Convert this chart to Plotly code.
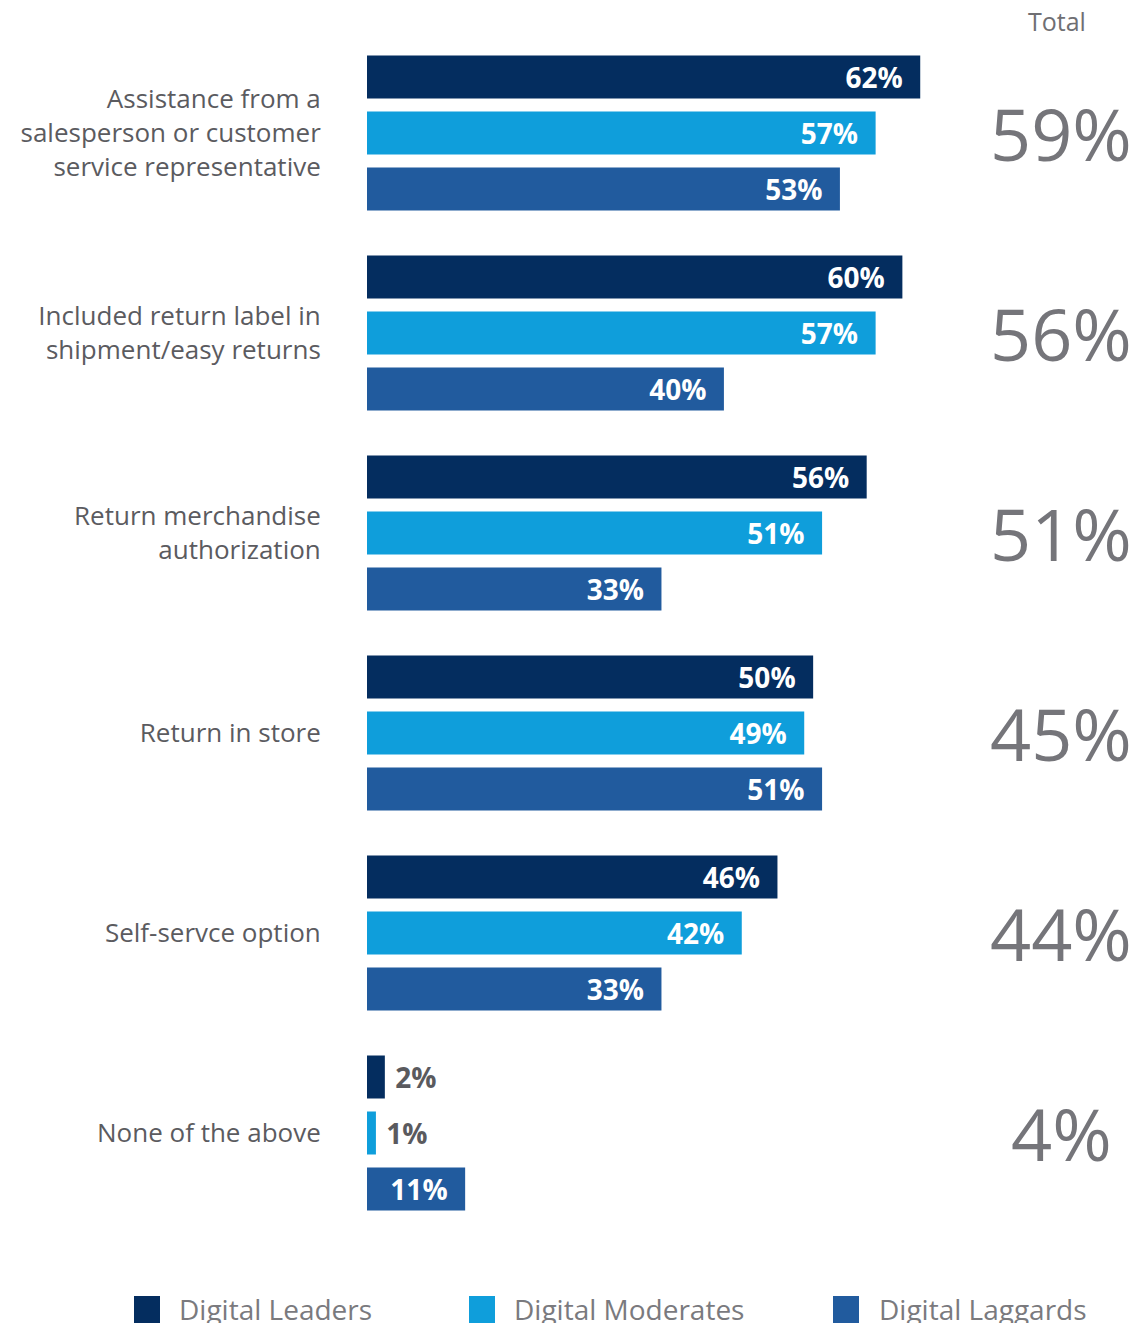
import plotly.graph_objects as go

categories = [
    "Assistance from a<br>salesperson or customer<br>service representative",
    "Included return label in<br>shipment/easy returns",
    "Return merchandise<br>authorization",
    "Return in store",
    "Self-servce option",
    "None of the above",
]
series_names = ["Digital Leaders", "Digital Moderates", "Digital Laggards"]
leaders = [62, 60, 56, 50, 46, 2]
moderates = [57, 57, 51, 49, 42, 1]
laggards = [53, 40, 33, 51, 33, 11]
totals = [59, 56, 51, 45, 44, 4]
colors = ["#042d5f", "#0f9edb", "#215b9e"]

# page has an 8px body margin; figure coords = page coords - 8
OFF = 8
W, H = 1140 - OFF, 1323 - OFF
ML, MR, MT = 367 - OFF, 0, 33 - OFF
PH = 1200
MB = H - MT - PH
PW = W - ML - MR


def fx(px):
    return (px - OFF - ML) / PW


def fy(py):
    return (MT + PH - (py - OFF)) / PH


font_main = "Open Sans"
fig = go.Figure()

for name, vals, col in zip(series_names, [leaders, moderates, laggards], colors):
    pos = ["outside" if v < 5 else "inside" for v in vals]
    txt = [("\u00a0%d%%" % v) if v < 5 else ("%d%%\u00a0\u00a0" % v) for v in vals]
    fig.add_trace(go.Bar(
        name=name, y=categories, x=vals, orientation="h",
        marker=dict(color=col, line=dict(width=0)),
        text=txt, textposition=pos, insidetextanchor="end",
        insidetextfont=dict(color="white", size=28, family=font_main, weight="bold"),
        outsidetextfont=dict(color="#5a5a5e", size=28, family=font_main, weight="bold"),
        constraintext="none", cliponaxis=False,
        xaxis="x", yaxis="y", showlegend=False,
        hoverinfo="skip",
    ))

# invisible anchor trace for the Total column axis
fig.add_trace(go.Scatter(
    x=[0.5] * len(totals), y=categories, mode="markers",
    marker=dict(size=1, opacity=0), xaxis="x2", yaxis="y",
    showlegend=False, hoverinfo="skip",
))

annotations = []
for cat, t in zip(categories, totals):
    annotations.append(dict(
        text="%d%%" % t, xref="x2", yref="y", x=0.5, y=cat,
        xanchor="center", yanchor="middle", yshift=0, showarrow=False,
        font=dict(size=72, color="#75757a", family=font_main),
    ))

annotations.append(dict(
    text="Total", xref="paper", yref="paper", x=fx(1057), y=fy(21),
    xanchor="center", yanchor="middle", showarrow=False,
    font=dict(size=25, color="#6f6f73", family=font_main),
))
shapes = []
legend_pos = [(134, 177), (469, 512), (833, 877)]
for (sx, tx), name, col in zip(legend_pos, series_names, colors):
    shapes.append(dict(
        type="rect", xref="paper", yref="paper",
        x0=fx(sx), x1=fx(sx + 26),
        y0=fy(1296), y1=fy(1325),
        fillcolor=col, line=dict(width=0), layer="above",
    ))
    annotations.append(dict(
        text=name, xref="paper", yref="paper", x=fx(tx), y=fy(1309),
        xanchor="left", yanchor="middle", showarrow=False,
        font=dict(size=28, color="#7a7a7e", family=font_main),
    ))

fig.update_layout(
    width=W, height=H,
    margin=dict(l=ML, r=MR, t=MT, b=MB),
    paper_bgcolor="white", plot_bgcolor="white",
    barmode="group", bargap=0.16, bargroupgap=0.232,
    xaxis=dict(domain=[0, 580 / PW], range=[0, 65], visible=False, fixedrange=True),
    xaxis2=dict(domain=[fx(1061) * 2 - 1, 1], range=[0, 1], visible=False, anchor="y"),
    yaxis=dict(
        type="category", categoryorder="array", categoryarray=categories,
        autorange="reversed", showgrid=False, zeroline=False, showline=False,
        ticks="outside", ticklen=40, tickcolor="rgba(0,0,0,0)",
        tickfont=dict(size=26, color="#5b5b5f", family=font_main),
    ),
    showlegend=False,
    annotations=annotations, shapes=shapes,
)

fig.write_html("out.html")
